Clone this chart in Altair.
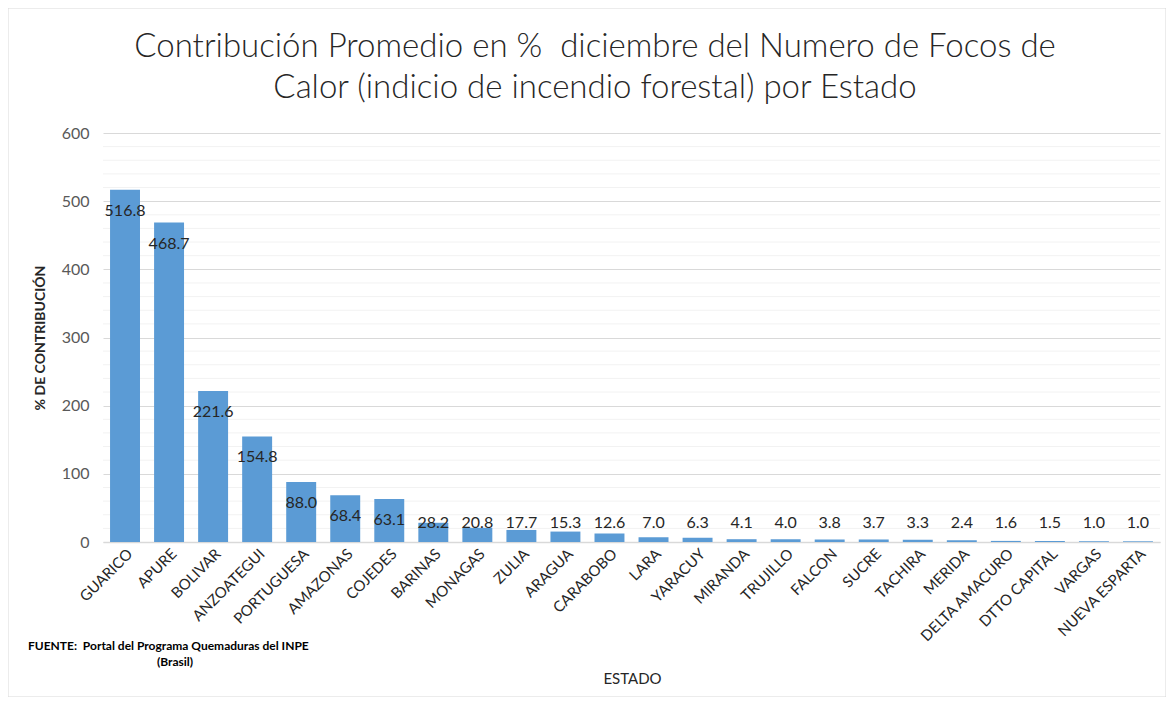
import altair as alt
import pandas as pd

estados = ["GUARICO", "APURE", "BOLIVAR", "ANZOATEGUI", "PORTUGUESA", "AMAZONAS",
           "COJEDES", "BARINAS", "MONAGAS", "ZULIA", "ARAGUA", "CARABOBO", "LARA",
           "YARACUY", "MIRANDA", "TRUJILLO", "FALCON", "SUCRE", "TACHIRA", "MERIDA",
           "DELTA AMACURO", "DTTO CAPITAL", "VARGAS", "NUEVA ESPARTA"]
valores = [516.8, 468.7, 221.6, 154.8, 88.0, 68.4, 63.1, 28.2, 20.8, 17.7, 15.3,
           12.6, 7.0, 6.3, 4.1, 4.0, 3.8, 3.7, 3.3, 2.4, 1.6, 1.5, 1.0, 1.0]
y_ticks = [0, 100, 200, 300, 400, 500, 600]
title_lines = ["Contribución Promedio en %\u00a0 diciembre del Numero de Focos de",
               "Calor (indicio de incendio forestal) por Estado"]
fuente = ["FUENTE:\u00a0 Portal del Programa Quemaduras del INPE", "(Brasil)"]

df = pd.DataFrame({"estado": estados, "valor": valores})

W, H = 1057, 409
FONT = "Lato"

x_enc = alt.X("estado:N", sort=estados,
              scale=alt.Scale(paddingInner=0.32, paddingOuter=0.16),
              axis=alt.Axis(title="ESTADO", labelAngle=-45, labelAlign="right",
                            labelBaseline="top", labelFontSize=15, labelColor="#262626",
                            labelFont=FONT, labelPadding=4, ticks=False,
                            domainColor="#D9D9D9", domainWidth=1.5,
                            titleFont=FONT, titleFontSize=15, titleFontWeight="normal",
                            titleColor="#262626", titleX=529, titleY=136,
                            titleBaseline="middle", titleAnchor="start", titleAlign="center"))

y_scale = alt.Scale(domain=[0, 600], nice=False)
y_axis = alt.Axis(values=y_ticks, title="% DE CONTRIBUCIÓN", grid=True,
                  gridColor="#D9D9D9", domain=False, ticks=False,
                  labelFontSize=16, labelColor="#595959", labelFont=FONT,
                  labelPadding=14, titleFont=FONT, titleFontSize=14,
                  titleFontWeight="bold", titleColor="#262626", titlePadding=14)

frame = alt.Chart(pd.DataFrame({"t": [0]})).mark_rect(
    fillOpacity=0, stroke="#D9D9D9", strokeWidth=1).encode(
    x=alt.value(-95), x2=alt.value(W + 6), y=alt.value(-125), y2=alt.value(H + 155))

minor = alt.Chart(pd.DataFrame({"v": [m for m in range(0, 601, 20) if m % 100]})).mark_rule(
    color="#F2F2F2", strokeWidth=1).encode(y=alt.Y("v:Q", scale=y_scale, axis=y_axis))

bars = alt.Chart(df).mark_bar(color="#5B9BD5").encode(
    x=x_enc,
    y=alt.Y("valor:Q", scale=y_scale, axis=y_axis))

labels = alt.Chart(df).transform_calculate(
    ly="max(datum.valor, 58.7)", lt="format(datum.valor, '.1f')"
).mark_text(fontSize=16, font=FONT, color="#262626", dy=21, baseline="middle").encode(
    x=alt.X("estado:N", sort=estados),
    y=alt.Y("ly:Q", scale=y_scale),
    text="lt:N")

TFONT = "Lato"
t1 = alt.Chart(pd.DataFrame({"t": [title_lines[0]]})).mark_text(
    fontSize=33, font=TFONT, fontWeight=300, color="#262626", align="center",
    baseline="middle").encode(x=alt.value(492), y=alt.value(-86), text="t:N")
t2 = alt.Chart(pd.DataFrame({"t": [title_lines[1]]})).mark_text(
    fontSize=33, font=TFONT, fontWeight=300, color="#262626", align="center",
    baseline="middle").encode(x=alt.value(492), y=alt.value(-45), text="t:N")

foot1 = alt.Chart(pd.DataFrame({"t": [fuente[0]]})).mark_text(
    fontSize=12, font=FONT, fontWeight="bold", color="#000000", align="left",
    baseline="middle").encode(x=alt.value(-75), y=alt.value(104 + H), text="t:N")
foot2 = alt.Chart(pd.DataFrame({"t": [fuente[1]]})).mark_text(
    fontSize=12, font=FONT, fontWeight="bold", color="#000000", align="center",
    baseline="middle").encode(x=alt.value(72), y=alt.value(120 + H), text="t:N")

chart = alt.layer(frame, minor, bars, labels, t1, t2, foot1, foot2).properties(
    width=W, height=H,
    autosize=alt.AutoSizeParams(type="none"),
    padding={"left": 95, "top": 125, "right": 6, "bottom": 155}
).configure_view(stroke=None)

chart.save("out.html", embed_options={"renderer": "svg", "actions": False})
